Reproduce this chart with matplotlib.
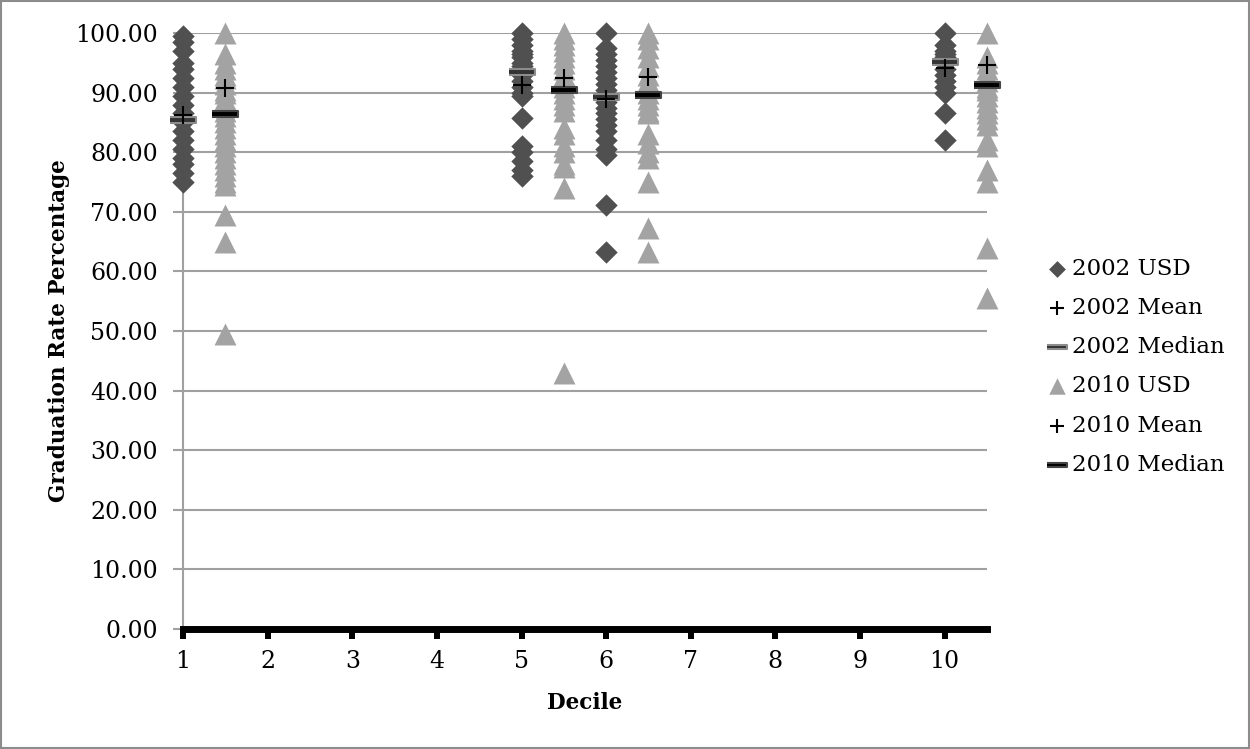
import matplotlib.pyplot as plt
from matplotlib.patches import Rectangle

plt.rcParams['font.family'] = ['DejaVu Serif']

# deciles on the x axis; 2010 series is drawn half a step to the right
deciles = [1, 5, 6, 10]
offset_2010 = 0.5

# graduation rates per school district
usd_2002 = {
    1: [99.5, 98.5, 97, 95, 94, 92.5, 91, 89.5, 88, 86.5, 85, 83.5, 82, 80.5, 79, 78, 76.5, 75],
    5: [100, 99, 98, 97, 96.5, 96, 95, 94.5, 94, 93, 92, 91, 90, 89.5, 85.8, 81, 80, 78.5, 77, 76],
    6: [100, 97.5, 96.5, 95.5, 94.5, 93.5, 92.5, 91.5, 90.5, 89.5, 88.5, 87.5, 86.5, 85.5,
        84.5, 83.5, 82, 80.5, 79.5, 71.2, 63.3],
    10: [100, 98, 97, 96.5, 96, 95, 94, 93, 92, 91, 90, 86.5, 82],
}
usd_2010 = {
    1: [100, 96.5, 95, 94, 93, 92.5, 91.5, 90.5, 90, 89, 88, 87, 86, 85, 84, 83, 82, 81,
        80, 79, 78, 77, 76, 75, 74.5, 69.5, 65, 49.5],
    5: [100, 99, 98, 97, 96, 95, 94, 93, 92, 91, 90, 89, 88, 87, 84, 83, 81, 80, 78,
        77.5, 74, 43],
    6: [100, 99, 97.5, 96, 94.5, 93, 92, 91, 90, 89, 88, 87, 86.5, 83, 81.5, 80, 79,
        75, 67.3, 63.3],
    10: [100, 96, 95, 94, 93, 92, 91, 90.5, 89.5, 88.5, 87.5, 86.5, 85.5, 84.5, 82, 81,
         77, 75, 64, 55.5],
}
mean_2002 = [86.2, 91.3, 89.0, 94.1]
median_2002 = [85.4, 93.5, 89.3, 95.1]
mean_2010 = [90.8, 92.4, 92.7, 94.6]
median_2010 = [86.4, 90.4, 89.6, 91.2]

bar = [(-1, -0.22), (1, -0.22), (1, 0.22), (-1, 0.22)]

fig = plt.figure(figsize=(12.5, 7.49), dpi=100)
ax = fig.add_axes([0.1464, 0.1602, 0.6432, 0.7957])

x02, y02, x10, y10 = [], [], [], []
for d in deciles:
    x02 += [d] * len(usd_2002[d])
    y02 += usd_2002[d]
    x10 += [d + offset_2010] * len(usd_2010[d])
    y10 += usd_2010[d]
xs10 = [d + offset_2010 for d in deciles]

kw = dict(clip_on=False)
ax.scatter(x02, y02, marker='D', s=130, color='#505050', lw=0, label='2002 USD', zorder=3, **kw)
ax.scatter(deciles, mean_2002, marker='+', s=170, color='black', lw=1.5, label='2002 Mean', zorder=5, **kw)
ax.scatter(deciles, median_2002, marker=bar, s=340, facecolor='#333333', edgecolor='#8c8c8c',
           lw=1.5, label='2002 Median', zorder=4, **kw)
ax.scatter(x10, y10, marker='^', s=250, color='#a3a3a3', lw=0, label='2010 USD', zorder=3, **kw)
ax.scatter(xs10, mean_2010, marker='+', s=170, color='black', lw=1.5, label='2010 Mean', zorder=5, **kw)
ax.scatter(xs10, median_2010, marker=bar, s=340, facecolor='black', edgecolor='#444444',
           lw=1.5, label='2010 Median', zorder=4, **kw)

ax.set_xlim(1, 10.5)
ax.set_ylim(0, 100)
ax.set_xticks(range(1, 11))
ax.set_yticks(range(0, 101, 10))
ax.set_yticklabels([f'{v:.2f}' for v in range(0, 101, 10)])
ax.tick_params(labelsize=17)
ax.tick_params(axis='y', length=7, color='#a0a0a0', width=1.5, pad=11)
ax.tick_params(axis='x', length=7, color='black', width=4.3, pad=8)
ax.grid(axis='y', color='#a0a0a0', lw=1.5)
ax.set_axisbelow(True)
for s in ['top', 'right']:
    ax.spines[s].set_visible(False)
ax.spines['left'].set_color('#a0a0a0')
ax.spines['left'].set_linewidth(1.5)
ax.spines['bottom'].set_color('black')
ax.spines['bottom'].set_linewidth(5)
ax.spines['bottom'].set_zorder(6)

ax.set_xlabel('Decile', fontsize=15.5, fontweight='bold', labelpad=14)
ax.set_ylabel('Graduation Rate Percentage', fontsize=15.5, fontweight='bold', labelpad=4)

fig.legend(loc='upper left', bbox_to_anchor=(0.831, 0.668), frameon=False, fontsize=16.5,
           handlelength=0.8, handletextpad=0.25, labelspacing=0.75, borderaxespad=0,
           markerscale=0.75)

fig.patches.append(Rectangle((0.001, 0.001), 0.998, 0.998, transform=fig.transFigure,
                             fill=False, edgecolor='#8c8c8c', lw=1.5))

fig.savefig('out.png', dpi=100)
